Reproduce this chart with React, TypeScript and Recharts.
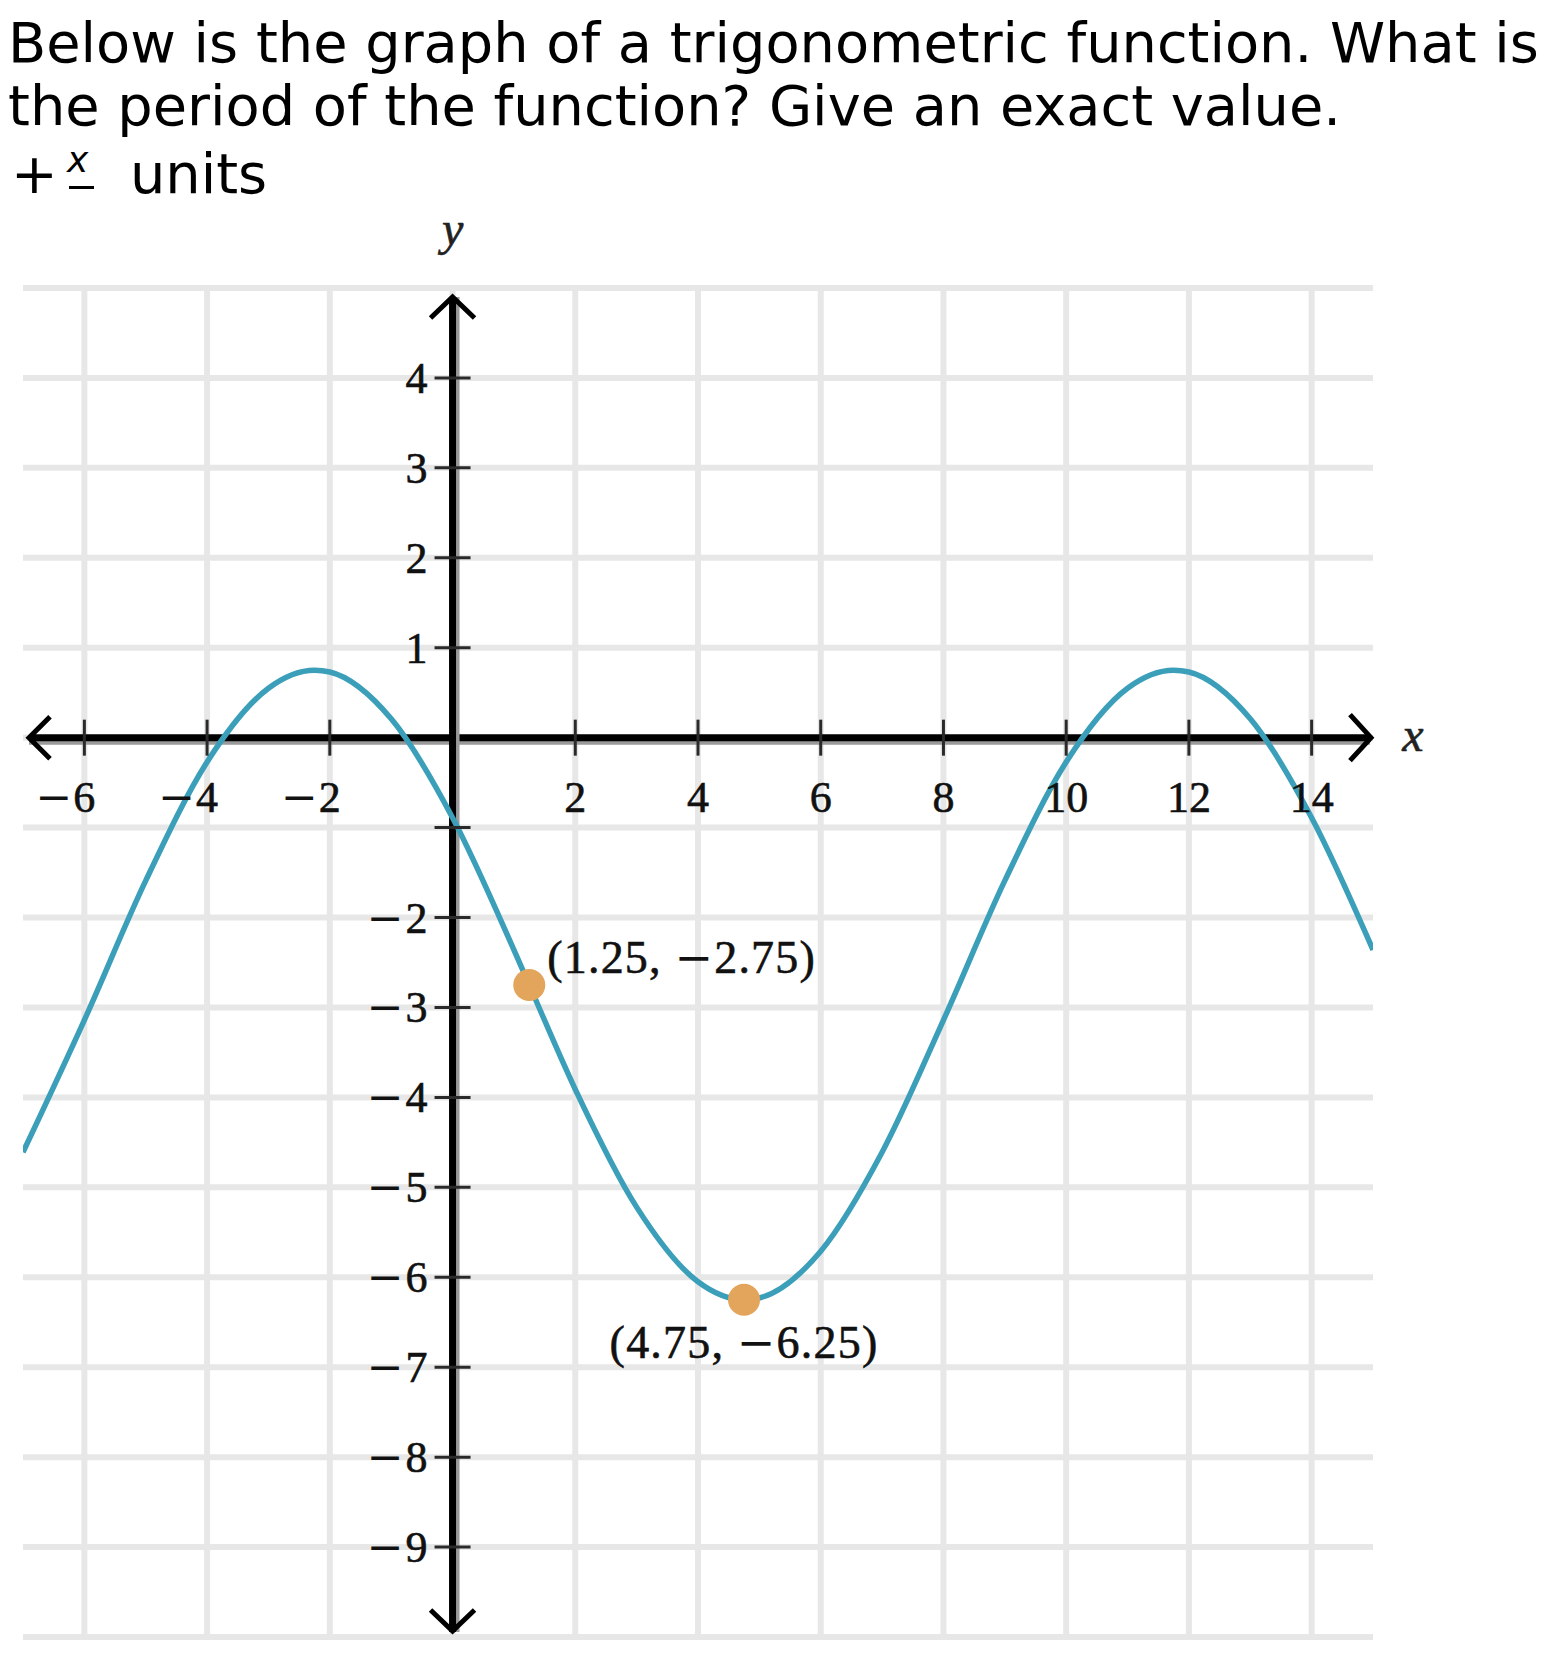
import { ComposedChart, Line, Scatter, XAxis, YAxis, ReferenceLine, ReferenceDot } from "recharts"

// values
const CURVE_X = [-7, -6, -5, -4, -3, -2.25, -2, -1, 0, 1, 1.25, 2, 3, 4, 4.75, 5, 6, 7, 8, 9, 10, 11, 11.75, 12, 13, 14, 15]
const CURVE_Y = [-4.61, -3.14, -1.59, -0.27, 0.55, 0.75, 0.73, 0.21, -0.89, -2.36, -2.75, -3.91, -5.22, -6.05, -6.25, -6.23, -5.71, -4.61, -3.14, -1.59, -0.27, 0.55, 0.75, 0.73, 0.21, -0.89, -2.36]

const KEY_X = [1.25, 4.75]
const KEY_Y = [-2.75, -6.25]
const KEY_LABELS = ["(1.25, \u22122.75)", "(4.75, \u22126.25)"]

const X_TICKS = [-6, -4, -2, 2, 4, 6, 8, 10, 12, 14]
const Y_TICKS = [4, 3, 2, 1, -1, -2, -3, -4, -5, -6, -7, -8, -9]
const Y_UNLABELED = [-1]
const GRID_X = [-6, -4, -2, 0, 2, 4, 6, 8, 10, 12, 14]
const GRID_Y = [5, 4, 3, 2, 1, 0, -1, -2, -3, -4, -5, -6, -7, -8, -9, -10]

const TITLE = [
  "Below is the graph of a trigonometric function. What is",
  "the period of the function? Give an exact value.",
]

const curveData = CURVE_X.map((x, i) => ({ x, y: CURVE_Y[i] }))
const keyData = KEY_X.map((x, i) => ({ x, y: KEY_Y[i], label: KEY_LABELS[i] }))

const SERIF = '"Liberation Serif", serif'
const MINUS_FONT = '"DejaVu Sans", sans-serif'
const INK = "#111"

function Num({ x, y, value, anchor }: any) {
  const digits = String(Math.abs(value))
  const neg = value < 0
  const common = { fontFamily: SERIF, fontSize: 44, fill: INK, stroke: INK, strokeWidth: 0.6 }
  const minusX = anchor === "end" ? x - digits.length * 22 - 2 : x - digits.length * 11 - 1
  return (
    <g>
      <text x={x} y={y} textAnchor={anchor} {...common}>
        {digits}
      </text>
      {neg && (
        <text x={minusX} y={y} textAnchor="end" {...common} fontFamily={MINUS_FONT} strokeWidth={0}>
          {"\u2212"}
        </text>
      )}
    </g>
  )
}

function XTick({ cx, cy, value }: any) {
  return (
    <g>
      <line x1={cx} x2={cx} y1={cy - 18} y2={cy + 18} stroke="#2a2a2a" strokeWidth={3} />
      <Num x={cx} y={cy + 74} value={value} anchor="middle" />
    </g>
  )
}

function YTick({ cx, cy, value }: any) {
  return (
    <g>
      <line x1={cx - 18} x2={cx + 18} y1={cy} y2={cy} stroke="#2a2a2a" strokeWidth={3} />
      {!Y_UNLABELED.includes(value) && <Num x={cx - 25} y={cy + 15} value={value} anchor="end" />}
    </g>
  )
}

function Chevron({ cx, cy, dir }: any) {
  let d = ""
  if (dir === "right") d = `M${cx - 23} ${cy - 23} L${cx - 2} ${cy} L${cx - 23} ${cy + 23}`
  if (dir === "left") d = `M${cx + 27} ${cy - 21} L${cx + 6} ${cy} L${cx + 27} ${cy + 21}`
  if (dir === "up") d = `M${cx - 22} ${cy + 30} L${cx} ${cy + 9} L${cx + 22} ${cy + 30}`
  if (dir === "down") d = `M${cx - 22} ${cy - 27} L${cx} ${cy - 6} L${cx + 22} ${cy - 27}`
  return <path d={d} fill="none" stroke="#000" strokeWidth={5} />
}

function AxisLine(props: any) {
  const { x1, y1, x2, y2, vertical } = props
  if (vertical) {
    const top = Math.min(y1, y2) + 9
    const bottom = Math.max(y1, y2) - 5
    return (
      <g>
        <line x1={x1 + 5} x2={x2 + 5} y1={top} y2={bottom} stroke="#9a9a9a" strokeWidth={4} />
        <line x1={x1} x2={x2} y1={top} y2={bottom} stroke="#000" strokeWidth={7} />
      </g>
    )
  }
  const left = Math.min(x1, x2) + 6
  const right = Math.max(x1, x2) - 3
  return (
    <g>
      <line x1={left} x2={right} y1={y1 + 5} y2={y2 + 5} stroke="#9a9a9a" strokeWidth={4} />
      <line x1={left} x2={right} y1={y1} y2={y2} stroke="#000" strokeWidth={7} />
    </g>
  )
}

function KeyPoint({ cx, cy, payload }: any) {
  const first = KEY_X.indexOf(payload.x) === 0
  const parts = String(payload.label).split("\u2212")
  return (
    <g>
      <circle cx={cx} cy={cy} r={16} fill="#E3A45B" />
      <text
        x={first ? cx + 18 : cx}
        y={first ? cy - 12 : cy + 58}
        textAnchor={first ? "start" : "middle"}
        fontFamily={SERIF}
        fontSize={46}
        letterSpacing={1.2}
        fill={INK}
        stroke={INK}
        strokeWidth={0.6}
      >
        {parts[0]}
        <tspan fontFamily={MINUS_FONT} strokeWidth={0}>
          {"\u2212"}
        </tspan>
        {parts[1]}
      </text>
    </g>
  )
}

export default function App() {
  return (
    <div style={{ position: "absolute", left: 0, top: 0, width: 1542, height: 1660, background: "#fff" }}>
      {TITLE.map((t, i) => (
        <div
          key={t}
          style={{
            position: "absolute",
            left: 8,
            top: 11 + i * 63,
            fontFamily: '"DejaVu Sans"',
            fontSize: 55.8,
            lineHeight: "64px",
            whiteSpace: "pre",
            color: "#000",
          }}
        >
          {t}
        </div>
      ))}
      <div style={{ position: "absolute", left: 11, top: 142, fontFamily: '"DejaVu Sans"', fontSize: 55.8, lineHeight: "64px" }}>
        +
      </div>
      <div
        style={{
          position: "absolute",
          left: 67,
          top: 139,
          fontFamily: '"DejaVu Sans"',
          fontStyle: "italic",
          fontSize: 36,
          lineHeight: "42px",
        }}
      >
        x
      </div>
      <div style={{ position: "absolute", left: 69, top: 186, width: 25, height: 3, background: "#000" }} />
      <div style={{ position: "absolute", left: 130, top: 142, fontFamily: '"DejaVu Sans"', fontSize: 55.8, lineHeight: "64px" }}>
        units
      </div>

      <div style={{ position: "absolute", left: 0, top: 0 }}>
        <ComposedChart width={1542} height={1660} margin={{ top: 288, right: 169, bottom: 23, left: 23 }}>
          <XAxis type="number" dataKey="x" domain={[-7, 15]} hide allowDataOverflow />
          <YAxis type="number" dataKey="y" domain={[-10, 5]} hide allowDataOverflow />

          {GRID_X.map((v) => (
            <ReferenceLine key={"gx" + v} x={v} stroke="#e7e7e7" strokeWidth={6} />
          ))}
          {GRID_Y.map((v) => (
            <ReferenceLine key={"gy" + v} y={v} stroke="#e7e7e7" strokeWidth={6} />
          ))}

          <ReferenceLine y={0} shape={(p: any) => <AxisLine {...p} />} />
          <ReferenceLine x={0} shape={(p: any) => <AxisLine {...p} vertical />} />

          <ReferenceDot x={15} y={0} shape={(p: any) => <Chevron {...p} dir="right" />} />
          <ReferenceDot x={-7} y={0} shape={(p: any) => <Chevron {...p} dir="left" />} />
          <ReferenceDot x={0} y={5} shape={(p: any) => <Chevron {...p} dir="up" />} />
          <ReferenceDot x={0} y={-10} shape={(p: any) => <Chevron {...p} dir="down" />} />

          <ReferenceDot
            x={0}
            y={5}
            shape={(p: any) => (
              <text
                x={p.cx}
                y={p.cy - 43}
                textAnchor="middle"
                fontFamily={SERIF}
                fontStyle="italic"
                fontSize={48}
                fill="#222"
                stroke="#222"
                strokeWidth={0.6}
              >
                y
              </text>
            )}
          />
          <ReferenceDot
            x={15}
            y={0}
            shape={(p: any) => (
              <text
                x={p.cx + 40}
                y={p.cy + 13}
                textAnchor="middle"
                fontFamily={SERIF}
                fontStyle="italic"
                fontSize={48}
                fill="#222"
                stroke="#222"
                strokeWidth={0.6}
              >
                x
              </text>
            )}
          />

          {X_TICKS.map((t) => (
            <ReferenceDot key={"xt" + t} x={t} y={0} shape={(p: any) => <XTick {...p} value={t} />} />
          ))}
          {Y_TICKS.map((t) => (
            <ReferenceDot key={"yt" + t} x={0} y={t} shape={(p: any) => <YTick {...p} value={t} />} />
          ))}

          <Line
            data={curveData}
            dataKey="y"
            type="monotone"
            stroke="#3c9fba"
            strokeWidth={5.5}
            dot={false}
            activeDot={false}
            isAnimationActive={false}
          />
          <Scatter data={keyData} dataKey="y" shape={(p: any) => <KeyPoint {...p} />} isAnimationActive={false} />
        </ComposedChart>
      </div>
    </div>
  )
}
